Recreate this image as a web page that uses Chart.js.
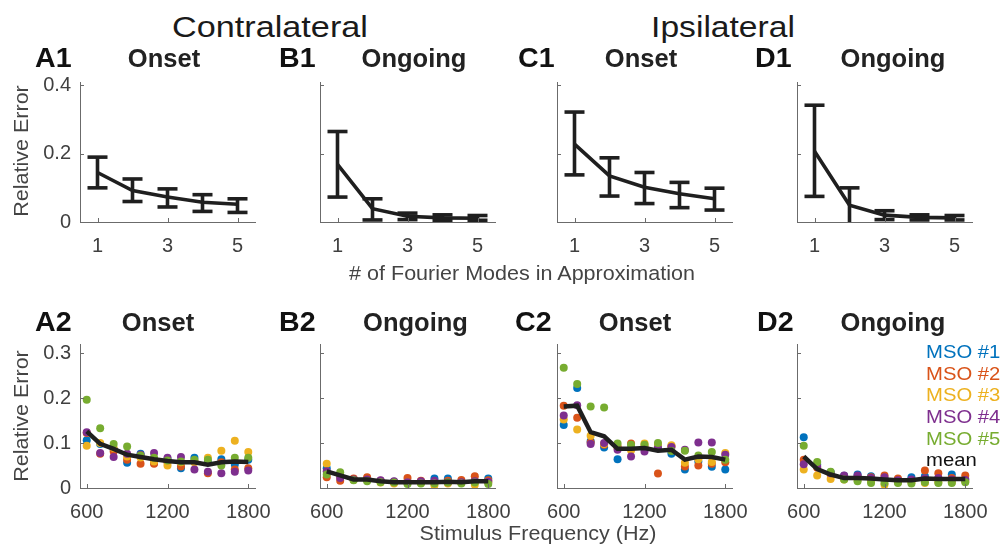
<!DOCTYPE html>
<html><head><meta charset="utf-8">
<script src="https://cdn.jsdelivr.net/npm/chart.js@4.4.1/dist/chart.umd.min.js"></script>
<style>
html,body{margin:0;padding:0;background:#fff;}
#wrap{position:relative;width:1006px;height:546px;overflow:hidden;font-family:"Liberation Sans",Arial,sans-serif;}
canvas{position:absolute;}
.t{position:absolute;white-space:nowrap;line-height:1;}
</style></head><body><div id="wrap"></div>
<script>
// ---------- data ----------
const modes = [1, 2, 3, 4, 5];
const modeTicks = [1, 3, 5];
const topYTicks = [0, 0.2, 0.4];

const A1_mean = [0.145, 0.092, 0.073, 0.058, 0.052];
const A1_lo   = [0.100, 0.060, 0.044, 0.031, 0.028];
const A1_hi   = [0.190, 0.126, 0.097, 0.080, 0.068];

const B1_mean = [0.169, 0.039, 0.017, 0.012, 0.011];
const B1_lo   = [0.073, 0.006, 0.007, 0.005, 0.005];
const B1_hi   = [0.265, 0.068, 0.026, 0.021, 0.019];

const C1_mean = [0.228, 0.135, 0.102, 0.083, 0.068];
const C1_lo   = [0.138, 0.076, 0.054, 0.042, 0.035];
const C1_hi   = [0.322, 0.188, 0.145, 0.116, 0.099];

const D1_mean = [0.207, 0.049, 0.020, 0.0135, 0.012];
const D1_lo   = [0.075, -0.008, 0.007, 0.006, 0.006];
const D1_hi   = [0.342, 0.100, 0.033, 0.021, 0.019];

const freqs = [600, 700, 800, 900, 1000, 1100, 1200, 1300, 1400, 1500, 1600, 1700, 1800];
const freqTicks = [600, 1200, 1800];
const botYTicks = [0, 0.1, 0.2, 0.3];
const seriesNames = ['MSO #1', 'MSO #2', 'MSO #3', 'MSO #4', 'MSO #5'];

// A2 (contralateral onset)
const A2_mso1 = [0.106, 0.098, 0.086, 0.056, 0.076, 0.056, 0.064, 0.044, 0.067, 0.057, 0.064, 0.052, 0.063];
const A2_mso2 = [0.122, 0.076, 0.081, 0.063, 0.054, 0.054, 0.057, 0.048, 0.059, 0.033, 0.057, 0.041, 0.044];
const A2_mso3 = [0.094, 0.100, 0.089, 0.070, 0.068, 0.059, 0.050, 0.057, 0.057, 0.067, 0.083, 0.105, 0.080];
const A2_mso4 = [0.124, 0.078, 0.069, 0.076, 0.074, 0.078, 0.067, 0.069, 0.041, 0.036, 0.033, 0.036, 0.039];
const A2_mso5 = [0.196, 0.133, 0.098, 0.092, 0.072, 0.067, 0.061, 0.059, 0.063, 0.063, 0.050, 0.067, 0.067];
const A2_mean = [0.126, 0.098, 0.087, 0.074, 0.069, 0.064, 0.060, 0.057, 0.057, 0.052, 0.057, 0.059, 0.058];

// B2 (contralateral ongoing)
const B2_mso1 = [0.044, 0.028, 0.020, 0.020, 0.015, 0.014, 0.014, 0.014, 0.021, 0.021, 0.014, 0.016, 0.021];
const B2_mso2 = [0.024, 0.016, 0.021, 0.024, 0.016, 0.013, 0.022, 0.016, 0.013, 0.016, 0.018, 0.026, 0.017];
const B2_mso3 = [0.054, 0.025, 0.018, 0.018, 0.012, 0.010, 0.012, 0.011, 0.006, 0.010, 0.011, 0.007, 0.012];
const B2_mso4 = [0.037, 0.022, 0.019, 0.019, 0.017, 0.015, 0.013, 0.015, 0.016, 0.013, 0.013, 0.015, 0.014];
const B2_mso5 = [0.030, 0.035, 0.017, 0.015, 0.013, 0.012, 0.009, 0.010, 0.010, 0.012, 0.010, 0.012, 0.009];
const B2_mean = [0.037, 0.028, 0.019, 0.019, 0.015, 0.013, 0.013, 0.013, 0.013, 0.014, 0.013, 0.015, 0.015];

// C2 (ipsilateral onset)
const C2_mso1 = [0.140, 0.222, 0.104, 0.090, 0.064, 0.088, 0.087, 0.092, 0.076, 0.041, 0.059, 0.047, 0.041];
const C2_mso2 = [0.183, 0.156, 0.101, 0.096, 0.092, 0.099, 0.092, 0.032, 0.093, 0.048, 0.050, 0.054, 0.057];
const C2_mso3 = [0.152, 0.130, 0.116, 0.098, 0.089, 0.084, 0.099, 0.096, 0.095, 0.056, 0.064, 0.058, 0.078];
const C2_mso4 = [0.161, 0.184, 0.098, 0.100, 0.085, 0.070, 0.081, 0.089, 0.091, 0.085, 0.101, 0.101, 0.074];
const C2_mso5 = [0.267, 0.231, 0.181, 0.179, 0.099, 0.096, 0.096, 0.100, 0.082, 0.083, 0.072, 0.080, 0.063];
const C2_mean = [0.181, 0.183, 0.124, 0.115, 0.087, 0.087, 0.089, 0.083, 0.085, 0.063, 0.070, 0.069, 0.063];

// D2 (ipsilateral ongoing)
const D2_mso1 = [0.113, 0.052, 0.035, 0.027, 0.030, 0.026, 0.019, 0.019, 0.024, 0.026, 0.021, 0.030, 0.020];
const D2_mso2 = [0.063, 0.045, 0.030, 0.025, 0.025, 0.024, 0.028, 0.021, 0.018, 0.039, 0.033, 0.022, 0.028];
const D2_mso3 = [0.041, 0.028, 0.020, 0.019, 0.019, 0.015, 0.007, 0.013, 0.013, 0.011, 0.013, 0.013, 0.015];
const D2_mso4 = [0.053, 0.048, 0.033, 0.028, 0.028, 0.022, 0.024, 0.017, 0.019, 0.021, 0.022, 0.019, 0.018];
const D2_mso5 = [0.094, 0.058, 0.036, 0.019, 0.015, 0.011, 0.011, 0.011, 0.010, 0.013, 0.011, 0.011, 0.013];
const D2_mean = [0.070, 0.042, 0.030, 0.022, 0.022, 0.021, 0.019, 0.017, 0.017, 0.021, 0.020, 0.020, 0.020];

// ---------- styling ----------
const FONT = "'Liberation Sans', Arial, sans-serif";
const AXIS = '#6b6b6b';
const TICKTXT = '#404040';
const LINEC = '#1f1f1f';
const COLORS = ['#0072BD', '#D95319', '#EDB120', '#7E2F8E', '#77AC30'];

const wrap = document.getElementById('wrap');

const inTicks = {
  id: 'inTicks',
  afterDraw(chart) {
    const {ctx, chartArea: a, scales: {x, y}} = chart;
    ctx.save();
    ctx.strokeStyle = AXIS;
    ctx.lineWidth = 1;
    ctx.beginPath();
    x.ticks.forEach(t => {
      const px = Math.round(x.getPixelForValue(t.value)) + 0.5;
      ctx.moveTo(px, a.bottom); ctx.lineTo(px, a.bottom - 4);
    });
    y.ticks.forEach(t => {
      const py = Math.round(y.getPixelForValue(t.value)) + 0.5;
      ctx.moveTo(a.left, py); ctx.lineTo(a.left + 4, py);
    });
    ctx.stroke();
    ctx.restore();
  }
};

const PADL = 78, PADT = 12, PADR = 40, PADB = 44;

function makePanel(area, xr, xTicks, yMax, yTicks, showY, datasets) {
  const cv = document.createElement('canvas');
  const W = area.w + PADL + PADR, H = area.h + PADT + PADB;
  cv.width = W; cv.height = H;
  cv.style.left = (area.x - PADL) + 'px';
  cv.style.top = (area.y - PADT) + 'px';
  cv.style.width = W + 'px'; cv.style.height = H + 'px';
  wrap.appendChild(cv);
  new Chart(cv, {
    type: 'scatter',
    data: {datasets},
    options: {
      responsive: false, animation: false, devicePixelRatio: 1,
      layout: {padding: {left: 0, top: PADT, right: PADR, bottom: 0}, autoPadding: false},
      plugins: {legend: {display: false}, tooltip: {enabled: false}},
      scales: {
        x: {
          type: 'linear', min: xr[0], max: xr[1],
          afterBuildTicks: s => { s.ticks = xTicks.map(v => ({value: v})); },
          afterFit: s => { s.height = PADB; s.paddingLeft = 0; s.paddingRight = 0; },
          grid: {display: false, drawTicks: false},
          border: {display: true, color: AXIS, width: 1},
          ticks: {font: {family: FONT, size: 20}, color: TICKTXT, padding: 12, maxRotation: 0, autoSkip: false,
                  callback: v => String(v)}
        },
        y: {
          type: 'linear', min: 0, max: yMax,
          afterBuildTicks: s => { s.ticks = yTicks.map(v => ({value: v})); },
          afterFit: s => { s.width = PADL; s.paddingTop = 0; s.paddingBottom = 0; },
          grid: {display: false, drawTicks: false},
          border: {display: true, color: AXIS, width: 1},
          ticks: {display: showY, font: {family: FONT, size: 20}, color: TICKTXT, padding: 9,
                  callback: v => String(v)}
        }
      }
    },
    plugins: [inTicks]
  });
}

function errDatasets(mean, lo, hi) {
  const bars = [];
  modes.forEach((m, i) => { bars.push({x: m, y: lo[i]}, {x: m, y: hi[i]}, {x: m, y: null}); });
  return [
    {type: 'line', data: modes.map((m, i) => ({x: m, y: mean[i]})), borderColor: LINEC, borderWidth: 3.6,
     pointRadius: 0, fill: false, tension: 0, clip: 0},
    {type: 'line', data: bars, borderColor: LINEC, borderWidth: 3.6, pointRadius: 0, spanGaps: false, fill: false, clip: 0},
    {type: 'scatter', data: modes.map((m, i) => ({x: m, y: hi[i]})).concat(modes.map((m, i) => ({x: m, y: lo[i]}))),
     pointStyle: 'line', pointRadius: 10, pointBorderWidth: 3.6, borderColor: LINEC, backgroundColor: LINEC, clip: 0}
  ];
}

function freqDatasets(series, mean) {
  const ds = [{type: 'line', data: freqs.map((f, i) => ({x: f, y: mean[i]})), borderColor: LINEC, borderWidth: 4.5,
               pointRadius: 0, fill: false, tension: 0, order: 0}];
  for (let k = series.length - 1; k >= 0; k--) {
    ds.push({type: 'scatter', label: seriesNames[k], data: freqs.map((f, i) => ({x: f, y: series[k][i]})),
             pointRadius: 4, pointBorderWidth: 0, backgroundColor: COLORS[k], borderColor: COLORS[k], order: 1});
  }
  return ds;
}

const colX = [80, 320, 557, 797];
const PW = 175;
const topArea = {y: 82, h: 140};
const botArea = {y: 344, h: 144};

makePanel({x: colX[0], y: topArea.y, w: PW, h: topArea.h}, [0.5, 5.5], modeTicks, 0.41, topYTicks, true, errDatasets(A1_mean, A1_lo, A1_hi));
makePanel({x: colX[1], y: topArea.y, w: PW, h: topArea.h}, [0.5, 5.5], modeTicks, 0.41, topYTicks, false, errDatasets(B1_mean, B1_lo, B1_hi));
makePanel({x: colX[2], y: topArea.y, w: PW, h: topArea.h}, [0.5, 5.5], modeTicks, 0.41, topYTicks, false, errDatasets(C1_mean, C1_lo, C1_hi));
makePanel({x: colX[3], y: topArea.y, w: PW, h: topArea.h}, [0.5, 5.5], modeTicks, 0.41, topYTicks, false, errDatasets(D1_mean, D1_lo, D1_hi));

makePanel({x: colX[0], y: botArea.y, w: PW, h: botArea.h}, [550, 1850], freqTicks, 0.32, botYTicks, true,
  freqDatasets([A2_mso1, A2_mso2, A2_mso3, A2_mso4, A2_mso5], A2_mean));
makePanel({x: colX[1], y: botArea.y, w: PW, h: botArea.h}, [550, 1850], freqTicks, 0.32, botYTicks, false,
  freqDatasets([B2_mso1, B2_mso2, B2_mso3, B2_mso4, B2_mso5], B2_mean));
makePanel({x: colX[2], y: botArea.y, w: PW, h: botArea.h}, [550, 1850], freqTicks, 0.32, botYTicks, false,
  freqDatasets([C2_mso1, C2_mso2, C2_mso3, C2_mso4, C2_mso5], C2_mean));
makePanel({x: colX[3], y: botArea.y, w: PW, h: botArea.h}, [550, 1850], freqTicks, 0.32, botYTicks, false,
  freqDatasets([D2_mso1, D2_mso2, D2_mso3, D2_mso4, D2_mso5], D2_mean));

// ---------- text ----------
function txt(s, o) {
  const d = document.createElement('div');
  d.className = 't';
  d.textContent = s;
  const size = o.size;
  d.style.fontSize = size + 'px';
  d.style.fontWeight = o.bold ? 'bold' : 'normal';
  d.style.color = o.color || '#1a1a1a';
  const sx = o.sx || 1;
  if (o.rot) {
    d.style.left = o.cx + 'px'; d.style.top = o.cy + 'px';
    d.style.transform = 'translate(-50%,-50%) rotate(-90deg) scaleX(' + sx + ')';
  } else {
    d.style.top = (o.base - 0.8465 * size) + 'px';
    if (o.cx !== undefined) {
      d.style.left = o.cx + 'px';
      d.style.transform = 'translateX(-50%) scaleX(' + sx + ')';
    } else {
      d.style.left = o.x + 'px';
      d.style.transformOrigin = 'left center';
      d.style.transform = 'scaleX(' + sx + ')';
    }
  }
  wrap.appendChild(d);
}

txt('Contralateral', {cx: 270, base: 37, size: 30, sx: 1.14});
txt('Ipsilateral', {cx: 723, base: 37, size: 30, sx: 1.12});

const LBL = '#444444';
txt('Relative Error', {rot: true, cx: 20.5, cy: 151, size: 20.5, sx: 1.05, color: LBL});
txt('Relative Error', {rot: true, cx: 20.5, cy: 416, size: 20.5, sx: 1.05, color: LBL});
txt('# of Fourier Modes in Approximation', {cx: 522, base: 280, size: 20.5, sx: 1.05, color: LBL});
txt('Stimulus Frequency (Hz)', {cx: 538, base: 540, size: 20.5, sx: 1.05, color: LBL});

const panelLabels = [
  ['A1', 35, 'Onset', 164, 67.5], ['B1', 279, 'Ongoing', 414, 67.5],
  ['C1', 518, 'Onset', 641, 67.5], ['D1', 755, 'Ongoing', 893, 67.5],
  ['A2', 35, 'Onset', 158, 331.5], ['B2', 279, 'Ongoing', 415.5, 331.5],
  ['C2', 515, 'Onset', 635, 331.5], ['D2', 757, 'Ongoing', 893, 331.5]
];
panelLabels.forEach(p => {
  txt(p[0], {x: p[1], base: p[4], size: 27, bold: true, sx: 1.06, color: '#111'});
  txt(p[2], {cx: p[3], base: p[4], size: 25.5, bold: true, color: '#222'});
});

const legendItems = seriesNames.concat(['mean']);
const legendColors = COLORS.concat(['#111']);
legendItems.forEach((s, i) => {
  txt(s, {x: 926, base: 359 + i * 21.6, size: 18.6, sx: 1.09, color: legendColors[i]});
});
</script>
</body></html>
